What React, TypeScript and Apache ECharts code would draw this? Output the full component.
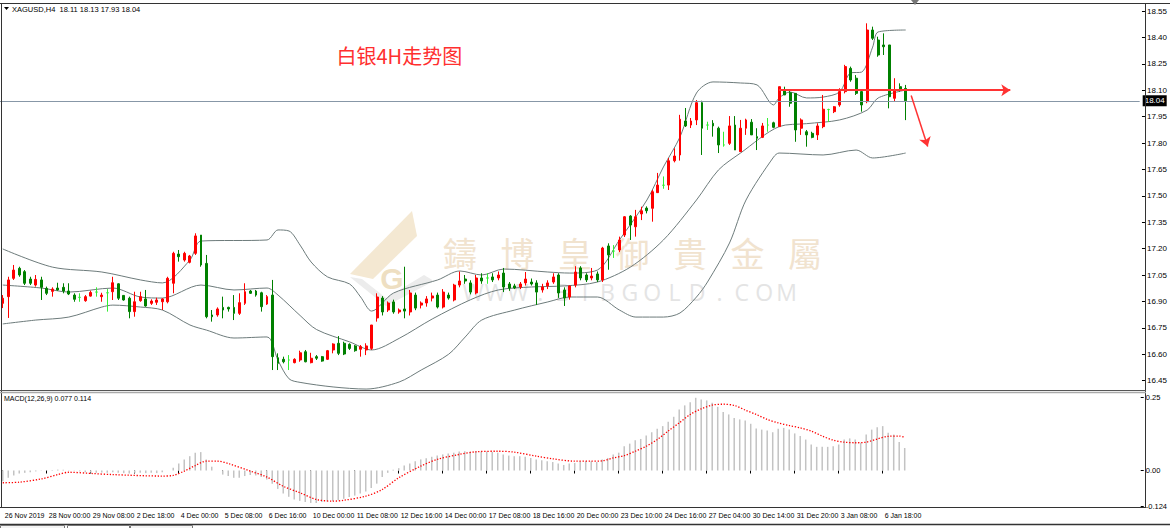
import { useEffect, useRef } from 'react';
import * as echarts from 'echarts';

const SYMBOL = 'XAGUSD,H4';
const TITLE = '白银4H走势图';
const SLOT_COUNT = 207;
const LABEL_STEP = 8;

const tickLabels = ['26 Nov 2019', '28 Nov 00:00', '29 Nov 08:00', '2 Dec 18:00', '4 Dec 00:00', '5 Dec 08:00', '6 Dec 16:00', '10 Dec 00:00', '11 Dec 08:00', '12 Dec 16:00', '14 Dec 00:00', '17 Dec 08:00', '18 Dec 16:00', '20 Dec 00:00', '23 Dec 10:00', '24 Dec 16:00', '27 Dec 04:00', '30 Dec 14:00', '31 Dec 20:00', '3 Jan 08:00', '6 Jan 18:00'];
const priceTicks = [18.55, 18.4, 18.25, 18.1, 17.95, 17.8, 17.65, 17.5, 17.35, 17.2, 17.05, 16.9, 16.75, 16.6, 16.45];
const macdTicks = [0.25, 0, -0.124];

// [open, high, low, close]
const bars = [
  [16.889, 16.936, 16.862, 16.918], [16.927, 17.04, 16.806, 17.022], [17.031, 17.107, 17.022, 17.078], [17.088, 17.097, 17.04, 17.05], [17.069, 17.078, 16.993, 17.003],
  [17.027, 17.04, 16.993, 17.003], [16.993, 17.05, 16.984, 17.025], [17.022, 17.04, 16.908, 16.98], [16.974, 16.984, 16.936, 16.946], [16.957, 16.98, 16.927, 16.97],
  [16.976, 17.006, 16.961, 16.965], [16.98, 17.003, 16.946, 16.959], [16.959, 17.003, 16.936, 16.942], [16.936, 16.946, 16.898, 16.912], [16.923, 16.946, 16.898, 16.923],
  [16.904, 16.936, 16.898, 16.927], [16.93, 16.961, 16.927, 16.951], [16.953, 16.98, 16.927, 16.953], [16.927, 16.949, 16.898, 16.936], [16.949, 16.97, 16.842, 16.949],
  [16.955, 17.04, 16.908, 17.006], [17.0, 17.003, 16.908, 16.918], [16.934, 16.936, 16.904, 16.908], [16.918, 16.927, 16.804, 16.842], [16.842, 16.955, 16.813, 16.898],
  [16.904, 16.955, 16.898, 16.927], [16.914, 16.965, 16.87, 16.874], [16.889, 16.912, 16.88, 16.902], [16.895, 16.921, 16.88, 16.908], [16.898, 16.918, 16.851, 16.914],
  [16.898, 17.04, 16.889, 17.031], [17.003, 17.182, 16.946, 17.173], [17.169, 17.192, 17.126, 17.154], [17.135, 17.182, 17.126, 17.173], [17.122, 17.164, 17.116, 17.158],
  [17.173, 17.287, 17.164, 17.272], [17.277, 17.277, 17.097, 17.107], [17.116, 17.164, 16.804, 16.813], [16.823, 16.851, 16.785, 16.813], [16.823, 16.866, 16.813, 16.857],
  [16.866, 16.927, 16.804, 16.851], [16.866, 16.87, 16.842, 16.857], [16.866, 16.936, 16.794, 16.832], [16.832, 16.946, 16.823, 16.893], [16.889, 17.003, 16.88, 16.955],
  [16.959, 16.965, 16.942, 16.946], [16.959, 16.965, 16.927, 16.936], [16.949, 16.955, 16.842, 16.87], [16.885, 16.936, 16.88, 16.927], [16.936, 17.022, 16.51, 16.586],
  [16.58, 16.605, 16.51, 16.548], [16.571, 16.586, 16.548, 16.557], [16.567, 16.595, 16.51, 16.567], [16.552, 16.577, 16.548, 16.571], [16.567, 16.62, 16.557, 16.608],
  [16.614, 16.624, 16.554, 16.557], [16.552, 16.608, 16.548, 16.577], [16.586, 16.595, 16.567, 16.577], [16.586, 16.59, 16.557, 16.561], [16.571, 16.624, 16.567, 16.62],
  [16.624, 16.662, 16.605, 16.658], [16.662, 16.703, 16.595, 16.605], [16.662, 16.671, 16.595, 16.601], [16.656, 16.662, 16.624, 16.633], [16.647, 16.652, 16.614, 16.62],
  [16.628, 16.652, 16.586, 16.643], [16.624, 16.662, 16.595, 16.647], [16.633, 16.766, 16.624, 16.766], [16.806, 16.946, 16.785, 16.925], [16.919, 16.93, 16.82, 16.84],
  [16.851, 16.9, 16.84, 16.891], [16.897, 16.91, 16.83, 16.84], [16.84, 16.86, 16.83, 16.851], [16.857, 17.097, 16.804, 16.845], [16.84, 16.965, 16.82, 16.948],
  [16.936, 16.95, 16.85, 16.862], [16.879, 16.9, 16.86, 16.891], [16.891, 16.93, 16.87, 16.914], [16.919, 16.95, 16.9, 16.931], [16.936, 16.95, 16.86, 16.868],
  [16.868, 16.97, 16.86, 16.953], [16.936, 16.95, 16.91, 16.919], [16.908, 17.0, 16.9, 16.993], [16.993, 17.07, 16.98, 17.016], [17.027, 17.05, 17.0, 17.016],
  [17.005, 17.02, 16.94, 16.953], [16.948, 17.05, 16.94, 17.033], [17.033, 17.06, 17.0, 17.016], [17.033, 17.06, 17.0, 17.033], [17.039, 17.06, 17.01, 17.022],
  [17.033, 17.07, 17.02, 17.05], [17.061, 17.09, 16.953, 16.982], [16.999, 17.01, 16.96, 16.976], [16.988, 17.0, 16.97, 16.976], [16.982, 17.01, 16.97, 16.999],
  [17.005, 17.067, 16.99, 17.027], [17.01, 17.03, 16.99, 16.999], [17.005, 17.02, 16.88, 16.953], [16.965, 17.0, 16.95, 16.982], [16.988, 17.02, 16.97, 17.005],
  [17.01, 17.06, 17.0, 17.039], [17.05, 17.06, 16.92, 16.948], [16.965, 16.98, 16.874, 16.919], [16.925, 16.99, 16.91, 16.988], [16.993, 17.1, 16.98, 17.067],
  [17.09, 17.1, 17.02, 17.033], [17.05, 17.06, 17.01, 17.022], [17.033, 17.09, 17.02, 17.044], [17.056, 17.07, 17.01, 17.022], [17.022, 17.21, 17.01, 17.203],
  [17.215, 17.23, 17.08, 17.164], [17.186, 17.22, 17.147, 17.186], [17.192, 17.268, 17.18, 17.249], [17.277, 17.385, 17.266, 17.381], [17.385, 17.39, 17.249, 17.334],
  [17.324, 17.42, 17.268, 17.381], [17.397, 17.438, 17.362, 17.415], [17.43, 17.44, 17.4, 17.415], [17.429, 17.533, 17.353, 17.523], [17.518, 17.63, 17.516, 17.561],
  [17.56, 17.61, 17.54, 17.56], [17.561, 17.715, 17.533, 17.699], [17.699, 17.77, 17.69, 17.726], [17.732, 17.96, 17.7, 17.935], [17.925, 17.999, 17.891, 17.897],
  [17.902, 17.942, 17.885, 17.925], [17.931, 18.044, 17.902, 18.029], [18.029, 18.04, 17.732, 17.884], [17.902, 17.921, 17.874, 17.902], [17.912, 17.93, 17.836, 17.897],
  [17.884, 17.893, 17.743, 17.789], [17.789, 17.864, 17.779, 17.789], [17.798, 17.953, 17.789, 17.897], [17.902, 17.953, 17.76, 17.76], [17.751, 17.931, 17.751, 17.884],
  [17.884, 17.938, 17.846, 17.931], [17.918, 17.936, 17.846, 17.846], [17.836, 17.884, 17.76, 17.827], [17.832, 17.914, 17.828, 17.897], [17.902, 17.942, 17.864, 17.902],
  [17.915, 17.921, 17.884, 17.889], [17.893, 18.12, 17.893, 18.12], [18.095, 18.12, 18.073, 18.073], [18.086, 18.1, 18.006, 18.026], [18.082, 18.082, 17.807, 17.874],
  [17.884, 17.94, 17.846, 17.931], [17.864, 17.874, 17.779, 17.846], [17.855, 17.864, 17.827, 17.832], [17.846, 17.912, 17.817, 17.897], [17.893, 18.073, 17.884, 17.992],
  [17.99, 17.995, 17.92, 17.99], [17.978, 18.01, 17.97, 18.006], [18.016, 18.111, 18.006, 18.092], [18.092, 18.244, 18.082, 18.234], [18.224, 18.234, 18.148, 18.158],
  [18.168, 18.186, 18.073, 18.082], [18.092, 18.101, 17.978, 18.016], [18.035, 18.48, 18.026, 18.442], [18.442, 18.461, 18.385, 18.395], [18.385, 18.404, 18.29, 18.3],
  [18.357, 18.423, 18.3, 18.347], [18.357, 18.357, 17.997, 18.063], [18.054, 18.168, 18.035, 18.101], [18.12, 18.139, 18.092, 18.101], [18.11, 18.13, 17.93, 18.04],
];

// Bollinger bands [bar index, value]
const upperBand = [[0, 17.198], [9, 17.095], [18, 17.067], [25, 17.022], [29, 17.005], [34, 17.135], [36, 17.243], [48, 17.249], [50, 17.306], [52, 17.3], [54, 17.22], [56, 17.124], [59, 17.039], [63, 16.999], [65, 16.925], [67, 16.845], [71, 16.948], [79, 17.022], [83, 17.073], [87, 17.05], [91, 17.084], [99, 17.067], [103, 17.061], [108, 17.078], [112, 17.249], [117, 17.476], [120, 17.664], [123, 17.834], [126, 18.084], [129, 18.147], [134, 18.141], [137, 18.13], [140, 18.016], [141, 18.056], [143, 18.09], [146, 18.056], [149, 18.061], [152, 18.09], [154, 18.198], [156, 18.203], [158, 18.345], [159, 18.431], [164, 18.442]];
const middleBand = [[0, 16.993], [7, 16.976], [12, 16.953], [20, 16.976], [25, 16.925], [29, 16.919], [36, 16.993], [42, 16.965], [48, 16.976], [50, 16.936], [54, 16.82], [57, 16.74], [63, 16.67], [67, 16.624], [72, 16.69], [78, 16.8], [85, 16.91], [90, 16.965], [96, 16.982], [102, 16.988], [108, 17.01], [114, 17.095], [120, 17.249], [126, 17.476], [130, 17.647], [134, 17.743], [141, 17.893], [146, 17.91], [152, 17.931], [157, 17.987], [159, 18.056], [164, 18.101]];
const lowerBand = [[0, 16.772], [6, 16.794], [12, 16.811], [18, 16.868], [20, 16.879], [25, 16.868], [29, 16.851], [34, 16.766], [37, 16.737], [42, 16.692], [48, 16.698], [50, 16.565], [52, 16.46], [54, 16.44], [60, 16.414], [66, 16.402], [72, 16.442], [76, 16.51], [81, 16.6], [84, 16.698], [87, 16.794], [93, 16.851], [99, 16.897], [103, 16.925], [108, 16.925], [112, 16.851], [115, 16.811], [120, 16.811], [123, 16.834], [126, 16.925], [128, 17.01], [132, 17.232], [135, 17.476], [140, 17.72], [141, 17.743], [149, 17.732], [155, 17.76], [158, 17.715], [164, 17.743]];

// MACD(12,26,9) main histogram, one value per bar
const macdMain = [
  -0.037, -0.025, -0.017, -0.010, -0.008, -0.006, -0.003, -0.001, 0.001, 0.002,
  0.003, 0.003, 0.001, -0.001, -0.003, -0.006, -0.007, -0.008, -0.007, -0.008,
  -0.006, -0.008, -0.009, -0.010, -0.008, -0.008, -0.009, -0.008, -0.009, -0.006,
  0.000, 0.009, 0.024, 0.038, 0.049, 0.061, 0.063, 0.038, 0.013, 0.000,
  -0.014, -0.019, -0.025, -0.025, -0.019, -0.015, -0.017, -0.022, -0.031, -0.045,
  -0.063, -0.079, -0.090, -0.099, -0.104, -0.108, -0.111, -0.111, -0.108, -0.106,
  -0.105, -0.102, -0.097, -0.091, -0.086, -0.079, -0.072, -0.060, -0.045, -0.022,
  -0.008, 0.003, 0.008, 0.017, 0.024, 0.032, 0.038, 0.042, 0.047, 0.051,
  0.055, 0.058, 0.061, 0.065, 0.066, 0.065, 0.066, 0.065, 0.065, 0.063,
  0.061, 0.055, 0.051, 0.049, 0.049, 0.047, 0.043, 0.038, 0.035, 0.032,
  0.029, 0.024, 0.019, 0.024, 0.026,
  0.032, 0.032, 0.032, 0.029, 0.038, 0.043, 0.055, 0.061, 0.083, 0.092,
  0.104, 0.108, 0.120, 0.131, 0.143, 0.152, 0.167, 0.184, 0.209, 0.223,
  0.234, 0.249, 0.243, 0.240, 0.232, 0.218, 0.200, 0.192, 0.180, 0.175,
  0.171, 0.160, 0.144, 0.140, 0.137, 0.131, 0.143, 0.146, 0.140, 0.127,
  0.118, 0.106, 0.089, 0.081, 0.081, 0.081, 0.083, 0.089, 0.106, 0.110,
  0.106, 0.095, 0.123, 0.140, 0.148, 0.152, 0.129, 0.123, 0.098, 0.077,
];
// MACD signal [bar index, value]
const macdSignal = [[0, -0.042], [3, -0.04], [7, -0.029], [10, -0.014], [12, -0.006], [16, -0.01], [20, -0.014], [29, -0.019], [31, -0.017], [33, -0.002], [35, 0.017], [37, 0.032], [39, 0.032], [41, 0.024], [45, -0.002], [48, -0.022], [51, -0.054], [54, -0.076], [57, -0.099], [60, -0.105], [62, -0.102], [66, -0.088], [69, -0.065], [72, -0.025], [76, 0.015], [79, 0.038], [83, 0.055], [86, 0.064], [90, 0.066], [93, 0.063], [97, 0.049], [100, 0.04], [104, 0.032], [107, 0.032], [109, 0.033], [111, 0.043], [113, 0.051], [115, 0.066], [117, 0.083], [119, 0.106], [121, 0.135], [123, 0.163], [125, 0.192], [127, 0.211], [129, 0.224], [131, 0.227], [133, 0.223], [135, 0.207], [137, 0.192], [139, 0.175], [141, 0.163], [143, 0.154], [145, 0.146], [147, 0.135], [149, 0.118], [151, 0.104], [153, 0.097], [155, 0.095], [157, 0.097], [159, 0.108], [161, 0.117], [163, 0.118], [164, 0.114]];

// annotation arrows [[barFrom, priceFrom], [barTo, priceTo]]
const sidewaysArrow = [[141, 18.1], [183, 18.1]];
const downArrow = [[165, 18.07], [168, 17.78]];

const BULL = '#ff0000';
const BEAR = '#008000';
const DOJI = '#33ee33';
const FONT = '"Liberation Sans", Arial, sans-serif';

export default function App() {
  const ref = useRef<HTMLDivElement>(null);
  useEffect(() => {
    const chart = echarts.init(ref.current!, null, { renderer: 'svg' });
    const categories = Array.from({ length: SLOT_COUNT }, (_, i) => String(i));
    const candleData = bars.map(([o, h, l, c]) =>
      o === c
        ? { value: [o, c, l, h], itemStyle: { color: DOJI, color0: DOJI, borderColor: DOJI, borderColor0: DOJI } }
        : [o, c, l, h]
    );
    const last = bars[bars.length - 1];
    const lastMacd = macdMain[macdMain.length - 1];
    const lastSignal = macdSignal[macdSignal.length - 1][1];
    const showIdx = (i: number) => i % LABEL_STEP === 0 && i / LABEL_STEP < tickLabels.length;
    const gl = -1.064;
    const gw = 1144.3;

    const wmChars = '鑄博皇御貴金屬'.split('');
    const wwwChars = 'WWW.BIBGOLD.COM'.split('');

    const graphic: any[] = [
      // watermark logo
      { type: 'polygon', z: 0, shape: { points: [[412, 211], [417, 236], [373, 279], [350, 274]] }, style: { fill: '#f4e8d2' } },
      { type: 'polygon', z: 0, shape: { points: [[350, 277], [386, 306], [434, 281], [424, 275], [386, 298], [362, 279]] }, style: { fill: '#ececec' } },
      { type: 'text', z: 0, x: 392, y: 278, style: { text: 'G', fill: '#eedfc2', fontSize: 30, fontWeight: 'bold', fontFamily: FONT, align: 'center', verticalAlign: 'middle' } },
      ...wmChars.map((ch, i) => ({ type: 'text', z: 0, x: 460 + i * 57.5, y: 252, style: { text: ch, fill: '#f1e3cf', fontSize: 34, fontFamily: '"Noto Sans CJK TC"', align: 'center', verticalAlign: 'middle' } })),
      ...wwwChars.map((ch, i) => ({ type: 'text', z: 0, x: 473 + i * 22.4, y: 292, style: { text: ch, fill: '#e4e4e4', fontSize: 23, fontFamily: '"Open Sans"', align: 'center', verticalAlign: 'middle' } })),
      // frame
      { type: 'line', z: 10, shape: { x1: 0, y1: 3.5, x2: 1170, y2: 3.5 }, style: { stroke: '#333', lineWidth: 1 } },
      { type: 'line', z: 10, shape: { x1: 1.5, y1: 3.5, x2: 1.5, y2: 507.5 }, style: { stroke: '#333', lineWidth: 1 } },
      { type: 'line', z: 10, shape: { x1: 1145.5, y1: 3.5, x2: 1145.5, y2: 507.5 }, style: { stroke: '#333', lineWidth: 1 } },
      { type: 'line', z: 10, shape: { x1: 0, y1: 390.5, x2: 1146, y2: 390.5 }, style: { stroke: '#555', lineWidth: 1 } },
      { type: 'line', z: 10, shape: { x1: 0, y1: 392.5, x2: 1146, y2: 392.5 }, style: { stroke: '#aaa', lineWidth: 1.5 } },
      { type: 'line', z: 10, shape: { x1: 0, y1: 507.5, x2: 1146, y2: 507.5 }, style: { stroke: '#333', lineWidth: 1 } },
      { type: 'line', z: 10, shape: { x1: 0, y1: 524.5, x2: 1170, y2: 524.5 }, style: { stroke: '#333', lineWidth: 1.5 } },
      { type: 'rect', z: 10, shape: { x: 0.5, y: 525.5, width: 64, height: 4 }, style: { fill: '#f4f4f4', stroke: '#777', lineWidth: 1 } },
      { type: 'rect', z: 10, shape: { x: 67.5, y: 525.5, width: 62, height: 4 }, style: { fill: '#fff', stroke: '#777', lineWidth: 1 } },
      { type: 'rect', z: 10, shape: { x: 130.5, y: 525.5, width: 62, height: 4 }, style: { fill: '#f4f4f4', stroke: '#777', lineWidth: 1 } },
      { type: 'polygon', z: 10, shape: { points: [[911, 0], [919, 0], [915, 5]] }, style: { fill: '#777' } },
      // header texts
      { type: 'polygon', z: 10, shape: { points: [[4, 7], [9, 7], [6.5, 10]] }, style: { fill: '#000' } },
      { type: 'text', z: 10, x: 12, y: 9, style: { text: `${SYMBOL}  ${last.map((v) => v.toFixed(2)).join(' ')}`, fill: '#000', fontSize: 7.5, fontFamily: FONT, verticalAlign: 'middle' } },
      { type: 'text', z: 10, x: 336.5, y: 55, style: { text: TITLE, fill: '#ff2f2f', fontSize: 20, fontFamily: '"Noto Sans CJK SC"', verticalAlign: 'middle' } },
      { type: 'text', z: 10, x: 4, y: 398, style: { text: `MACD(12,26,9) ${lastMacd.toFixed(3)} ${lastSignal.toFixed(3)}`, fill: '#000', fontSize: 7, fontFamily: FONT, verticalAlign: 'middle' } },
    ];

    const option: any = {
      animation: false,
      backgroundColor: '#fff',
      graphic,
      grid: [
        { left: gl, top: 5, width: gw, height: 385 },
        { left: gl, top: 394, width: gw, height: 113 },
      ],
      xAxis: [
        { type: 'category', gridIndex: 0, data: categories, boundaryGap: true, show: false },
        {
          type: 'category', gridIndex: 1, data: categories, boundaryGap: true,
          axisLine: { show: false },
          splitLine: { show: false },
          axisTick: { show: true, alignWithLabel: true, interval: (i: number) => showIdx(i), length: 3, lineStyle: { color: '#000' } },
          axisLabel: {
            show: true, interval: (i: number) => showIdx(i),
            formatter: (_v: string, i: number) => tickLabels[i / LABEL_STEP] ?? '',
            align: 'left', margin: 5, padding: [0, 0, 0, 2], fontSize: 7, color: '#000', fontFamily: FONT,
          },
        },
      ],
      yAxis: [
        {
          type: 'value', gridIndex: 0, position: 'right', offset: 2.3, min: 16.3966, max: 18.5841,
          axisLine: { show: false }, splitLine: { show: false },
          axisTick: { show: true, customValues: priceTicks, length: 3, lineStyle: { color: '#000' } },
          axisLabel: { customValues: priceTicks, formatter: (v: number) => v.toFixed(2), margin: 5, fontSize: 8, color: '#000', fontFamily: FONT },
        },
        {
          type: 'value', gridIndex: 1, position: 'right', offset: 2.3, min: -0.125, max: 0.262,
          axisLine: { show: false }, splitLine: { show: false },
          axisTick: { show: true, customValues: macdTicks, length: 3, lineStyle: { color: '#000' } },
          axisLabel: {
            customValues: macdTicks,
            formatter: (v: number) => (Math.abs(v * 100 - Math.round(v * 100)) < 1e-9 ? v.toFixed(2) : String(v)),
            margin: 5, fontSize: 7.5, color: '#000', fontFamily: FONT,
          },
        },
      ],
      series: [
        {
          type: 'line', name: 'upper', xAxisIndex: 0, yAxisIndex: 0, data: upperBand, showSymbol: false, smooth: 0.3, silent: true,
          lineStyle: { color: '#6d7b7b', width: 1 }, z: 2,
        },
        {
          type: 'line', name: 'middle', xAxisIndex: 0, yAxisIndex: 0, data: middleBand, showSymbol: false, smooth: 0.3, silent: true,
          lineStyle: { color: '#6d7b7b', width: 1 }, z: 2,
        },
        {
          type: 'line', name: 'lower', xAxisIndex: 0, yAxisIndex: 0, data: lowerBand, showSymbol: false, smooth: 0.3, silent: true,
          lineStyle: { color: '#6d7b7b', width: 1 }, z: 2,
        },
        {
          type: 'candlestick', xAxisIndex: 0, yAxisIndex: 0, data: candleData, barWidth: 2.4, silent: true, z: 3,
          itemStyle: { color: BULL, color0: BEAR, borderColor: BULL, borderColor0: BEAR, borderWidth: 1 },
          markLine: {
            silent: true, symbol: ['none', 'none'], animation: false,
            data: [{ yAxis: last[3] }],
            lineStyle: { color: '#8797a7', width: 1, type: 'solid' },
            label: { show: true, position: 'end', formatter: last[3].toFixed(2), color: '#fff', backgroundColor: '#000', padding: [2, 2, 1, 2], fontSize: 8, distance: 3, fontFamily: FONT },
          },
        },
        {
          type: 'line', name: 'arrows', xAxisIndex: 0, yAxisIndex: 0, data: [], silent: true, z: 5,
          markLine: {
            silent: true, animation: false, symbol: ['none', 'arrow'], symbolSize: 9,
            label: { show: false },
            lineStyle: { color: '#ff3333', width: 2, type: 'solid' },
            data: [
              [{ coord: sidewaysArrow[0] }, { coord: sidewaysArrow[1] }],
              [{ coord: downArrow[0], lineStyle: { width: 1.5 } }, { coord: downArrow[1] }],
            ],
          },
        },
        {
          type: 'bar', name: 'macd', xAxisIndex: 1, yAxisIndex: 1, data: macdMain, barWidth: 1.5, silent: true,
          itemStyle: { color: '#c3c3c3' },
        },
        {
          type: 'line', name: 'signal', xAxisIndex: 1, yAxisIndex: 1, data: macdSignal, showSymbol: false, smooth: 0.3, silent: true,
          lineStyle: { color: '#ff0000', width: 1.3, type: [1.3, 1.7] }, z: 4,
        },
      ],
    };
    chart.setOption(option);
    return () => chart.dispose();
  }, []);
  return <div ref={ref} style={{ position: 'fixed', left: 0, top: 0, width: 1170, height: 528, background: '#fff' }} />;
}
